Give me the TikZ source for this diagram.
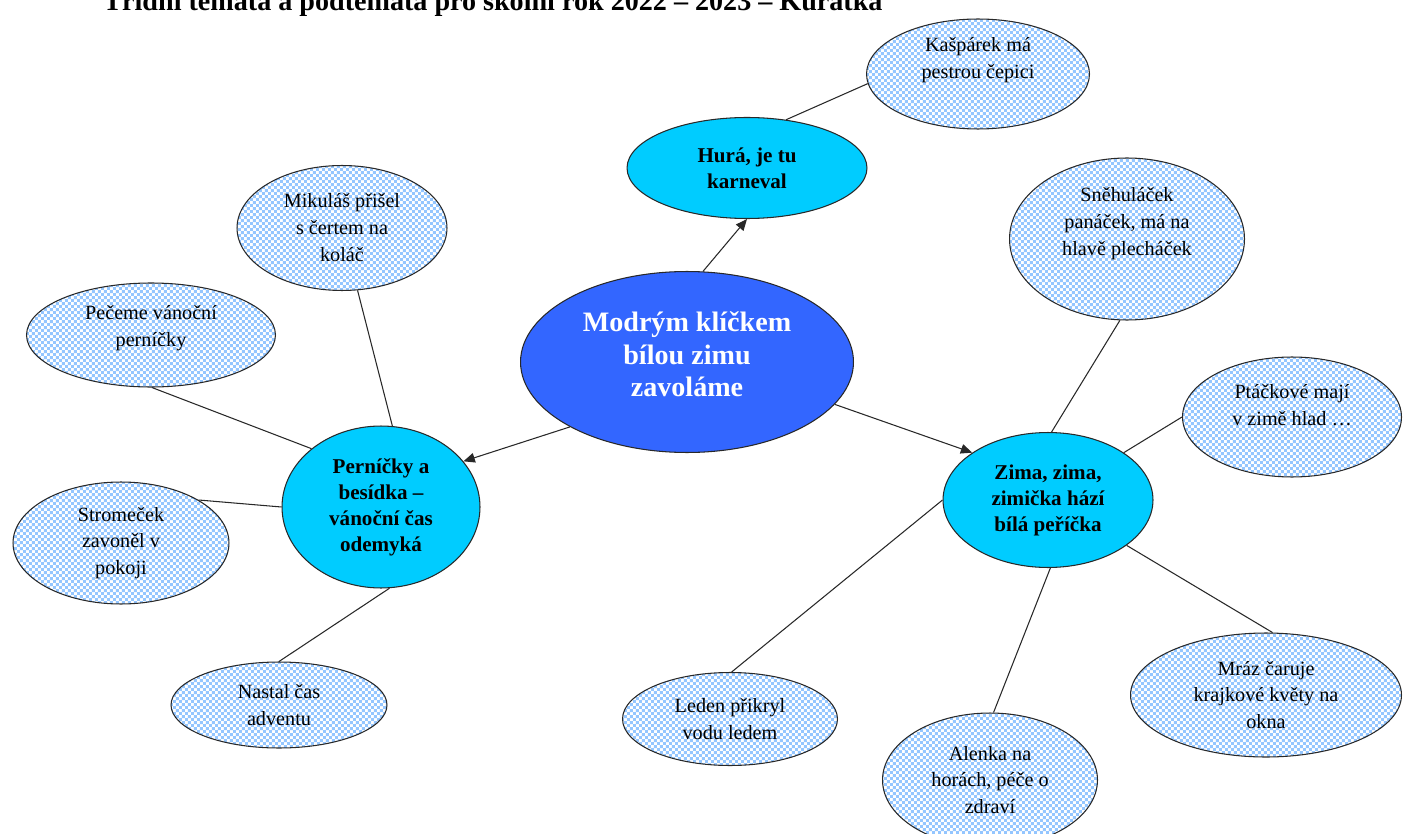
\documentclass[tikz,border=0pt]{standalone}
\usepackage{fontspec}
\setmainfont{Liberation Serif}
\usetikzlibrary{patterns,arrows.meta,shapes.geometric}
\pgfdeclarepatternformonly{chk}{\pgfpointorigin}{\pgfqpoint{3.4pt}{3.4pt}}{\pgfqpoint{3.4pt}{3.4pt}}{%
  \pgfpathrectangle{\pgfpointorigin}{\pgfqpoint{1.7pt}{1.7pt}}%
  \pgfpathrectangle{\pgfqpoint{1.7pt}{1.7pt}}{\pgfqpoint{1.7pt}{1.7pt}}%
  \pgfusepath{fill}}
\definecolor{chkblue}{RGB}{148,198,255}
\definecolor{topiccyan}{RGB}{0,204,255}
\definecolor{mainblue}{RGB}{51,102,255}
\definecolor{edgegray}{RGB}{40,40,40}
\tikzset{
  leaf/.style={ellipse, draw=edgegray, line width=0.6pt, pattern=chk, pattern color=chkblue,
    preaction={fill=white}, inner sep=0pt, align=center,
    font=\fontsize{11.5}{15.3}\selectfont},
  topic/.style={ellipse, draw=edgegray, line width=0.6pt, fill=topiccyan, inner sep=0pt,
    align=center, font=\fontsize{12}{14.8}\selectfont\bfseries},
  hub/.style={ellipse, draw=edgegray, line width=0.6pt, fill=mainblue, inner sep=0pt,
    align=center, text=white, font=\fontsize{16}{18.7}\selectfont\bfseries},
  link/.style={draw=edgegray, line width=0.6pt},
  arrowlink/.style={link, -{Triangle[length=6.5pt,width=5.5pt]}},
  titletext/.style={font=\fontsize{16}{19}\selectfont\bfseries, inner sep=0pt, anchor=base}
}
\begin{document}
\begin{tikzpicture}[x=0.02cm, y=-0.02cm]
\clip (0,0) rectangle (1405,834);
\fill[white] (0,0) rectangle (1405,834);

\node[titletext] (title) at (493,11) {Třídní témata a podtémata pro školní rok 2022 – 2023 – Kuřátka};

\node[hub, minimum width=6.66cm, minimum height=3.62cm, text depth=9pt] (mod) at (687,362)
  {Modrým klíčkem\\bílou zimu\\zavoláme};

\node[topic, minimum width=4.8cm, minimum height=2.02cm] (hura) at (747,168) {Hurá, je tu\\karneval};
\node[topic, minimum width=3.96cm, minimum height=3.24cm] (per) at (381,507) {Perníčky a\\besídka –\\vánoční čas\\odemyká};
\node[topic, minimum width=4.2cm, minimum height=2.7cm] (zim) at (1048,500) {Zima, zima,\\zimička hází\\bílá peříčka};

\node[leaf, minimum width=4.46cm, minimum height=2.2cm, text depth=18pt] (kas) at (978,74) {Kašpárek má\\pestrou čepici};
\node[leaf, minimum width=4.2cm, minimum height=2.5cm, text depth=1pt] (mik) at (342,228) {Mikuláš přišel\\s čertem na\\koláč};
\node[leaf, minimum width=4.98cm, minimum height=2.08cm, text depth=10pt] (pec) at (151,335) {Pečeme vánoční\\perníčky};
\node[leaf, minimum width=4.32cm, minimum height=2.44cm] (str) at (121,543) {Stromeček\\zavoněl v\\pokoji};
\node[leaf, minimum width=4.32cm, minimum height=1.72cm] (nas) at (279,705) {Nastal čas\\adventu};
\node[leaf, minimum width=4.7cm, minimum height=3.24cm, text depth=20pt] (sne) at (1127,239) {Sněhuláček\\panáček, má na\\hlavě plecháček};
\node[leaf, minimum width=4.38cm, minimum height=2.4cm, text depth=14pt] (pta) at (1292,417) {Ptáčkové mají\\v zimě hlad …};
\node[leaf, minimum width=5.42cm, minimum height=2.48cm] (mra) at (1266,695) {Mráz čaruje\\krajkové květy na\\okna};
\node[leaf, minimum width=4.3cm, minimum height=1.86cm] (led) at (730,719) {Leden přikryl\\vodu ledem};
\node[leaf, minimum width=4.3cm, minimum height=2.68cm] (ale) at (990,780) {Alenka na\\horách, péče o\\zdraví};

% arrows from the hub
\draw[arrowlink] (mod.80) -- (hura.270);
\draw[arrowlink] (mod.209) -- (per.29);
\draw[arrowlink] (mod.-16) -- (zim.148);

% plain links
\draw[link] (hura.51) -- (kas.185);
\draw[link] (mik.-76) -- (per.82);
\draw[link] (pec.-89) -- (per.140);
\draw[link] (str.29) -- (per.180);
\draw[link] (nas.90) -- (per.-84);
\draw[link] (sne.-95) -- (zim.87);
\draw[link] (pta.180) -- (zim.32);
\draw[link] (led.88) -- (zim.180);
\draw[link] (ale.87) -- (zim.-88);
\draw[link] (mra.84) -- (zim.-30);
\end{tikzpicture}
\end{document}
